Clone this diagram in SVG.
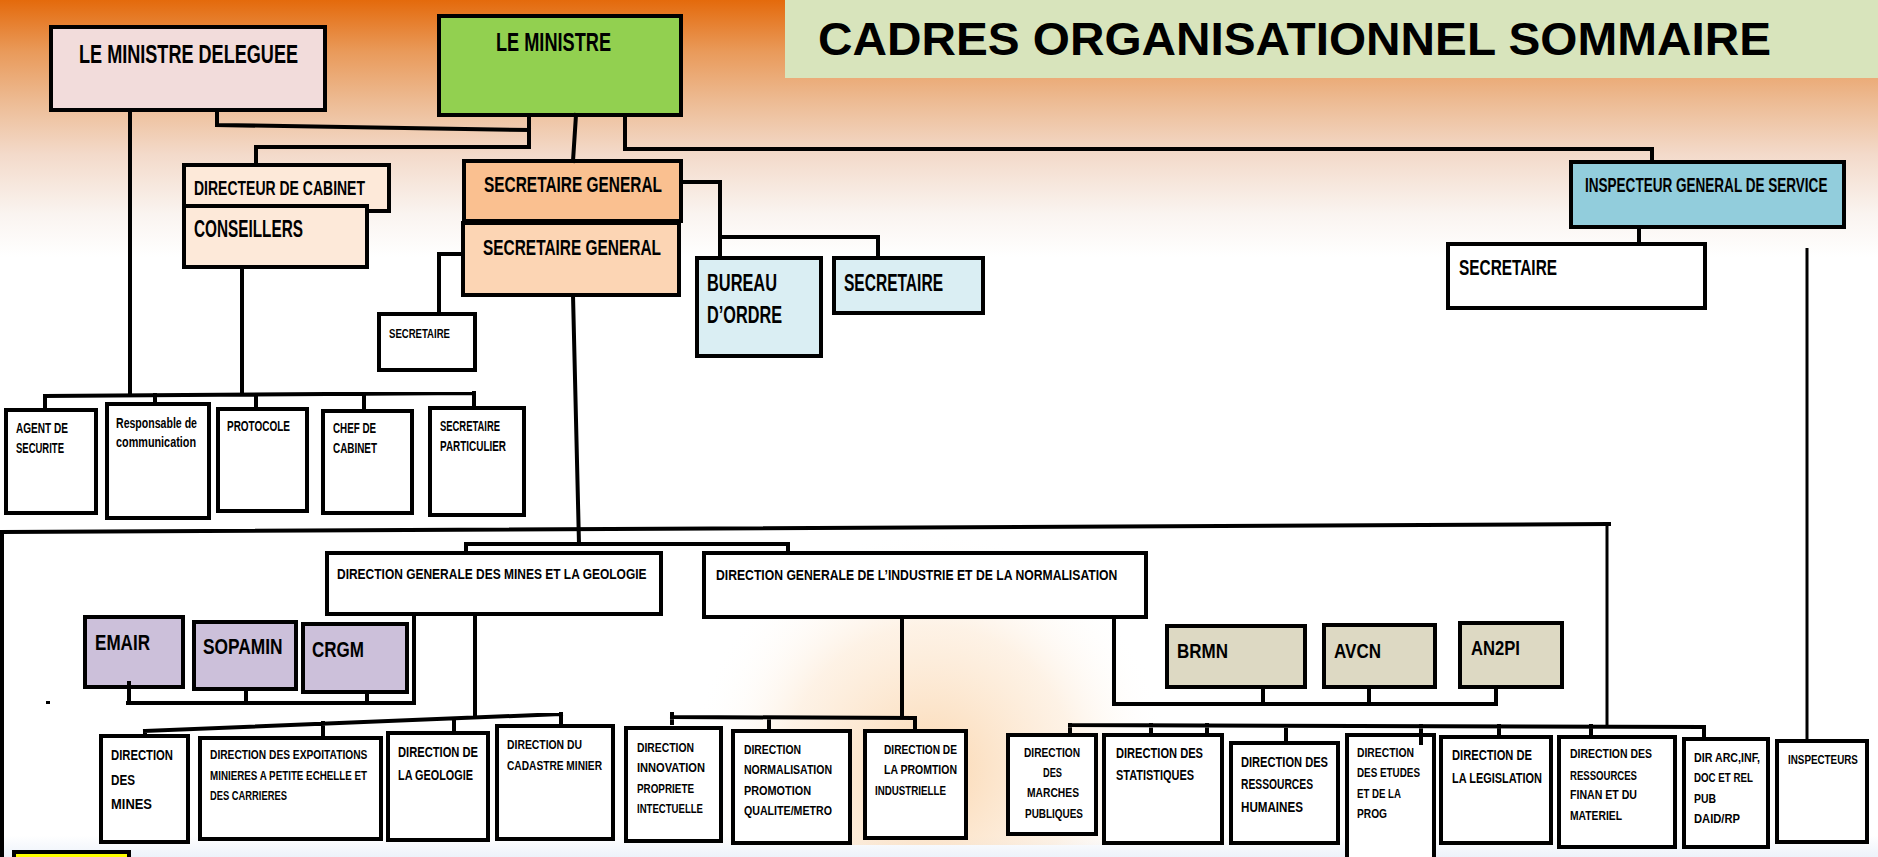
<svg xmlns="http://www.w3.org/2000/svg" width="1878" height="857" viewBox="0 0 1878 857">
<defs>
<linearGradient id="bg" x1="0" y1="0" x2="0" y2="857" gradientUnits="userSpaceOnUse">
<stop offset="0" stop-color="#E46A0C"/>
<stop offset="0.06" stop-color="#E99A5A"/>
<stop offset="0.12" stop-color="#EDBC95"/>
<stop offset="0.18" stop-color="#F3DACA"/>
<stop offset="0.25" stop-color="#FAF4F0"/>
<stop offset="0.3" stop-color="#FFFFFF"/>
<stop offset="0.975" stop-color="#FFFFFF"/>
<stop offset="1" stop-color="#EDF2FA"/>
</linearGradient>
<radialGradient id="glow" cx="930" cy="770" r="240" gradientUnits="userSpaceOnUse">
<stop offset="0" stop-color="#FAD3A8" stop-opacity="0.9"/>
<stop offset="0.6" stop-color="#FCE5CC" stop-opacity="0.5"/>
<stop offset="1" stop-color="#FFFFFF" stop-opacity="0"/>
</radialGradient>
<style>
.b{stroke:#000;stroke-width:4}
.w{fill:#FFFFFF}
.c{fill:none;stroke:#000;stroke-width:4;stroke-linecap:square}
.c3{fill:none;stroke:#000;stroke-width:3}
.t{font-family:'Liberation Sans',Arial,sans-serif;font-weight:bold;fill:#000}
.s13{font-size:13px}.s14{font-size:14px}.s15{font-size:15px}
.s21{font-size:21px}.s22{font-size:22px}.s23{font-size:23px}.s26{font-size:26px}
</style>
</defs>
<rect x="0" y="0" width="1878" height="857" fill="url(#bg)"/>
<rect x="620" y="530" width="620" height="315" fill="url(#glow)"/>

<g id="title">
<rect x="785" y="0" width="1093" height="78" fill="#D8E4BC"/>
<text class="t" x="818" y="55" font-size="47" textLength="953" lengthAdjust="spacingAndGlyphs">CADRES ORGANISATIONNEL SOMMAIRE</text>
</g>

<g id="n-deleguee"><rect class="b" x="51" y="27" width="274" height="83" fill="#F2DCDB"/><text class="t s26" x="79" y="63" textLength="219" lengthAdjust="spacingAndGlyphs">LE MINISTRE DELEGUEE</text></g>
<g id="n-ministre"><rect class="b" x="439" y="16" width="242" height="99" fill="#92D050"/><text class="t s26" x="496" y="51" textLength="115" lengthAdjust="spacingAndGlyphs">LE MINISTRE</text></g>
<g id="n-dircab"><rect class="b" x="184" y="165" width="205" height="46" fill="#FDE9D9"/><text class="t s21" x="194" y="195" textLength="171" lengthAdjust="spacingAndGlyphs">DIRECTEUR DE CABINET</text></g>
<g id="n-conseillers"><rect class="b" x="184" y="206" width="183" height="61" fill="#FDE9D9"/><text class="t s23" x="194" y="237" textLength="109" lengthAdjust="spacingAndGlyphs">CONSEILLERS</text></g>
<g id="n-sg1"><rect class="b" x="464" y="161" width="217" height="60" fill="#FAC090"/><text class="t s22" x="484" y="192" textLength="178" lengthAdjust="spacingAndGlyphs">SECRETAIRE GENERAL</text></g>
<g id="n-sg2"><rect class="b" x="463" y="223" width="216" height="72" fill="#FCD5B4"/><text class="t s22" x="483" y="255" textLength="178" lengthAdjust="spacingAndGlyphs">SECRETAIRE GENERAL</text></g>
<g id="n-sec-sg"><rect class="b w" x="379" y="314" width="96" height="56"/><text class="t s13" x="389" y="338" textLength="61" lengthAdjust="spacingAndGlyphs">SECRETAIRE</text></g>
<g id="n-bureau"><rect class="b" x="697" y="258" width="124" height="98" fill="#DAEEF3"/><text class="t s23" x="707" y="291" textLength="70" lengthAdjust="spacingAndGlyphs">BUREAU</text><text class="t s23" x="707" y="323" textLength="75" lengthAdjust="spacingAndGlyphs">D’ORDRE</text></g>
<g id="n-sec-bo"><rect class="b" x="834" y="258" width="149" height="55" fill="#DAEEF3"/><text class="t s23" x="844" y="291" textLength="99" lengthAdjust="spacingAndGlyphs">SECRETAIRE</text></g>
<g id="n-igs"><rect class="b" x="1571" y="162" width="273" height="65" fill="#92CDDC"/><text class="t s21" transform="translate(1585 192) scale(0.645 1)">INSPECTEUR GENERAL DE SERVICE</text></g>
<g id="n-sec-igs"><rect class="b w" x="1448" y="244" width="257" height="64"/><text class="t s22" x="1459" y="275" textLength="98" lengthAdjust="spacingAndGlyphs">SECRETAIRE</text></g>

<g id="n-agent"><rect class="b w" x="6" y="410" width="90" height="103"/><text class="t s14" x="16" y="433" textLength="52" lengthAdjust="spacingAndGlyphs">AGENT DE</text><text class="t s14" x="16" y="453" textLength="48" lengthAdjust="spacingAndGlyphs">SECURITE</text></g>
<g id="n-resp"><rect class="b w" x="107" y="404" width="102" height="114"/><text class="t s14" x="116" y="428" textLength="81" lengthAdjust="spacingAndGlyphs">Responsable de</text><text class="t s14" x="116" y="447" textLength="80" lengthAdjust="spacingAndGlyphs">communication</text></g>
<g id="n-protocole"><rect class="b w" x="218" y="409" width="89" height="102"/><text class="t s14" x="227" y="431" textLength="63" lengthAdjust="spacingAndGlyphs">PROTOCOLE</text></g>
<g id="n-chef"><rect class="b w" x="323" y="411" width="89" height="102"/><text class="t s14" x="333" y="433" textLength="43" lengthAdjust="spacingAndGlyphs">CHEF DE</text><text class="t s14" x="333" y="453" textLength="44" lengthAdjust="spacingAndGlyphs">CABINET</text></g>
<g id="n-secpart"><rect class="b w" x="430" y="408" width="94" height="107"/><text class="t s14" x="440" y="431" textLength="60" lengthAdjust="spacingAndGlyphs">SECRETAIRE</text><text class="t s14" x="440" y="451" textLength="66" lengthAdjust="spacingAndGlyphs">PARTICULIER</text></g>

<g id="n-dgmg"><rect class="b w" x="327" y="553" width="334" height="61"/><text class="t s15" transform="translate(337 579) scale(0.799 1)">DIRECTION GENERALE DES MINES ET LA GEOLOGIE</text></g>
<g id="n-dgin"><rect class="b w" x="704" y="553" width="442" height="64"/><text class="t s15" transform="translate(716 580) scale(0.813 1)">DIRECTION GENERALE DE L’INDUSTRIE ET DE LA NORMALISATION</text></g>

<g id="n-emair"><rect class="b" x="85" y="617" width="98" height="70" fill="#CCC0DA"/><text class="t s22" x="95" y="650" textLength="55" lengthAdjust="spacingAndGlyphs">EMAIR</text></g>
<g id="n-sopamin"><rect class="b" x="194" y="622" width="102" height="67" fill="#CCC0DA"/><text class="t s22" transform="translate(203 654) scale(0.789 1)">SOPAMIN</text></g>
<g id="n-crgm"><rect class="b" x="303" y="624" width="104" height="68" fill="#CCC0DA"/><text class="t s22" transform="translate(312 657) scale(0.774 1)">CRGM</text></g>

<g id="n-dmines"><rect class="b w" x="101" y="736" width="87" height="106"/><text class="t s14" x="111" y="760" textLength="62" lengthAdjust="spacingAndGlyphs">DIRECTION</text><text class="t s14" x="111" y="785" textLength="24" lengthAdjust="spacingAndGlyphs">DES</text><text class="t s14" x="111" y="809" textLength="41" lengthAdjust="spacingAndGlyphs">MINES</text></g>
<g id="n-dexpl"><rect class="b w" x="200" y="738" width="181" height="101"/><text class="t s13" transform="translate(210 759) scale(0.786 1)">DIRECTION DES EXPOITATIONS</text><text class="t s13" transform="translate(210 780) scale(0.754 1)">MINIERES A PETITE ECHELLE ET</text><text class="t s13" transform="translate(210 800) scale(0.72 1)">DES CARRIERES</text></g>
<g id="n-dgeo"><rect class="b w" x="388" y="733" width="100" height="107"/><text class="t s15" x="398" y="757" textLength="80" lengthAdjust="spacingAndGlyphs">DIRECTION DE</text><text class="t s15" x="398" y="780" textLength="75" lengthAdjust="spacingAndGlyphs">LA GEOLOGIE</text></g>
<g id="n-dcad"><rect class="b w" x="497" y="726" width="116" height="113"/><text class="t s13" x="507" y="749" textLength="75" lengthAdjust="spacingAndGlyphs">DIRECTION DU</text><text class="t s13" x="507" y="770" textLength="95" lengthAdjust="spacingAndGlyphs">CADASTRE MINIER</text></g>

<g id="n-dinno"><rect class="b w" x="626" y="728" width="95" height="113"/><text class="t s13" x="637" y="752" textLength="57" lengthAdjust="spacingAndGlyphs">DIRECTION</text><text class="t s13" x="637" y="772" textLength="68" lengthAdjust="spacingAndGlyphs">INNOVATION</text><text class="t s13" x="637" y="793" textLength="57" lengthAdjust="spacingAndGlyphs">PROPRIETE</text><text class="t s13" x="637" y="813" textLength="66" lengthAdjust="spacingAndGlyphs">INTECTUELLE</text></g>
<g id="n-dnorm"><rect class="b w" x="733" y="731" width="117" height="112"/><text class="t s13" x="744" y="754" textLength="57" lengthAdjust="spacingAndGlyphs">DIRECTION</text><text class="t s13" x="744" y="774" textLength="88" lengthAdjust="spacingAndGlyphs">NORMALISATION</text><text class="t s13" x="744" y="795" textLength="67" lengthAdjust="spacingAndGlyphs">PROMOTION</text><text class="t s13" x="744" y="815" textLength="88" lengthAdjust="spacingAndGlyphs">QUALITE/METRO</text></g>
<g id="n-dpromo"><rect class="b w" x="865" y="731" width="101" height="107"/><text class="t s13" x="884" y="754" textLength="73" lengthAdjust="spacingAndGlyphs">DIRECTION DE</text><text class="t s13" x="884" y="774" textLength="73" lengthAdjust="spacingAndGlyphs">LA PROMTION</text><text class="t s13" x="875" y="795" textLength="71" lengthAdjust="spacingAndGlyphs">INDUSTRIELLE</text></g>

<g id="n-brmn"><rect class="b" x="1167" y="626" width="138" height="61" fill="#DDD9C3"/><text class="t s21" x="1177" y="658" textLength="51" lengthAdjust="spacingAndGlyphs">BRMN</text></g>
<g id="n-avcn"><rect class="b" x="1324" y="625" width="111" height="62" fill="#DDD9C3"/><text class="t s21" x="1334" y="658" textLength="47" lengthAdjust="spacingAndGlyphs">AVCN</text></g>
<g id="n-an2pi"><rect class="b" x="1460" y="623" width="102" height="64" fill="#DDD9C3"/><text class="t s21" x="1471" y="655" textLength="49" lengthAdjust="spacingAndGlyphs">AN2PI</text></g>

<g id="n-dmarches"><rect class="b w" x="1008" y="735" width="88" height="99"/><text class="t s13" x="1024" y="757" textLength="56" lengthAdjust="spacingAndGlyphs">DIRECTION</text><text class="t s13" x="1043" y="777" textLength="19" lengthAdjust="spacingAndGlyphs">DES</text><text class="t s13" x="1027" y="797" textLength="52" lengthAdjust="spacingAndGlyphs">MARCHES</text><text class="t s13" x="1025" y="818" textLength="58" lengthAdjust="spacingAndGlyphs">PUBLIQUES</text></g>
<g id="n-dstat"><rect class="b w" x="1104" y="735" width="118" height="108"/><text class="t s14" x="1116" y="758" textLength="87" lengthAdjust="spacingAndGlyphs">DIRECTION DES</text><text class="t s14" x="1116" y="780" textLength="78" lengthAdjust="spacingAndGlyphs">STATISTIQUES</text></g>
<g id="n-drh"><rect class="b w" x="1231" y="743" width="107" height="100"/><text class="t s14" x="1241" y="767" textLength="87" lengthAdjust="spacingAndGlyphs">DIRECTION DES</text><text class="t s14" x="1241" y="789" textLength="72" lengthAdjust="spacingAndGlyphs">RESSOURCES</text><text class="t s14" x="1241" y="812" textLength="62" lengthAdjust="spacingAndGlyphs">HUMAINES</text></g>
<g id="n-detudes"><rect class="b w" x="1347" y="735" width="87" height="125"/><text class="t s13" x="1357" y="757" textLength="57" lengthAdjust="spacingAndGlyphs">DIRECTION</text><text class="t s13" x="1357" y="777" textLength="63" lengthAdjust="spacingAndGlyphs">DES ETUDES</text><text class="t s13" x="1357" y="798" textLength="44" lengthAdjust="spacingAndGlyphs">ET DE LA</text><text class="t s13" x="1357" y="818" textLength="30" lengthAdjust="spacingAndGlyphs">PROG</text></g>
<g id="n-dleg"><rect class="b w" x="1441" y="737" width="110" height="106"/><text class="t s14" x="1452" y="760" textLength="80" lengthAdjust="spacingAndGlyphs">DIRECTION DE</text><text class="t s14" x="1452" y="783" textLength="90" lengthAdjust="spacingAndGlyphs">LA LEGISLATION</text></g>
<g id="n-dfin"><rect class="b w" x="1559" y="737" width="116" height="110"/><text class="t s13" x="1570" y="758" textLength="82" lengthAdjust="spacingAndGlyphs">DIRECTION DES</text><text class="t s13" x="1570" y="780" textLength="67" lengthAdjust="spacingAndGlyphs">RESSOURCES</text><text class="t s13" x="1570" y="799" textLength="67" lengthAdjust="spacingAndGlyphs">FINAN ET DU</text><text class="t s13" x="1570" y="820" textLength="52" lengthAdjust="spacingAndGlyphs">MATERIEL</text></g>
<g id="n-ddir"><rect class="b w" x="1684" y="739" width="84" height="108"/><text class="t s13" x="1694" y="762" textLength="66" lengthAdjust="spacingAndGlyphs">DIR ARC,INF,</text><text class="t s13" x="1694" y="782" textLength="59" lengthAdjust="spacingAndGlyphs">DOC ET REL</text><text class="t s13" x="1694" y="803" textLength="22" lengthAdjust="spacingAndGlyphs">PUB</text><text class="t s13" x="1694" y="823" textLength="46" lengthAdjust="spacingAndGlyphs">DAID/RP</text></g>
<g id="n-insp"><rect class="b w" x="1777" y="741" width="90" height="101"/><text class="t s13" transform="translate(1788 764) scale(0.757 1)">INSPECTEURS</text></g>
<g id="n-yellow"><rect class="b" x="14" y="852" width="115" height="12" fill="#FFFF00"/></g>

<g id="connectors">
<path class="c" d="M217,110 V125 L529,130"/>
<path class="c" d="M529,115 V147 H256 V165"/>
<path class="c" d="M576,115 L573,161"/>
<path class="c" d="M625,115 V149 H1652 V162"/>
<path class="c" d="M681,182 H720 V258 M720,237 H878 V258"/>
<path class="c" d="M463,254 H439 V314"/>
<path class="c" d="M130,110 V395 M242,267 V394"/>
<path class="c" d="M45,396 L474,393 M45,396 V410 M155,395 V404 M256,395 V409 M364,394 V411 M474,393 V408"/>
<path class="c" d="M1639,227 V244"/>
<path class="c3" d="M1807,248 V741"/>
<path class="c" d="M573,295 L579,544 M466,553 V544 H788 V553"/>
<path class="c" d="M2,532 L1609,524 M2,532 V857"/>
<path class="c3" d="M1607,524 V726"/>
<path class="c" d="M129,683 V703 M246,689 V703 M367,692 V703 M128,703 H414 V614"/>
<path class="c" d="M475,614 V715 M145,731 L561,714 M145,731 V736 M323,723 V738 M454,720 V733 M561,714 V726"/>
<path class="c" d="M902,617 V717 M672,717 L915,718 M672,714 V723 M769,718 V731 M915,718 V731"/>
<path class="c" d="M1114,617 V704 H1496 M1263,687 V704 M1369,687 V704 M1496,687 V704"/>
<path class="c" d="M1070,725 L1704,727 M1070,725 V735 M1151,725 V733 M1207,725 V733 M1286,726 V743 M1421,726 V743 M1499,726 V737 M1591,726 V737 M1704,727 V739"/>
<rect x="46" y="701" width="4" height="3" fill="#000"/>
</g>
</svg>
